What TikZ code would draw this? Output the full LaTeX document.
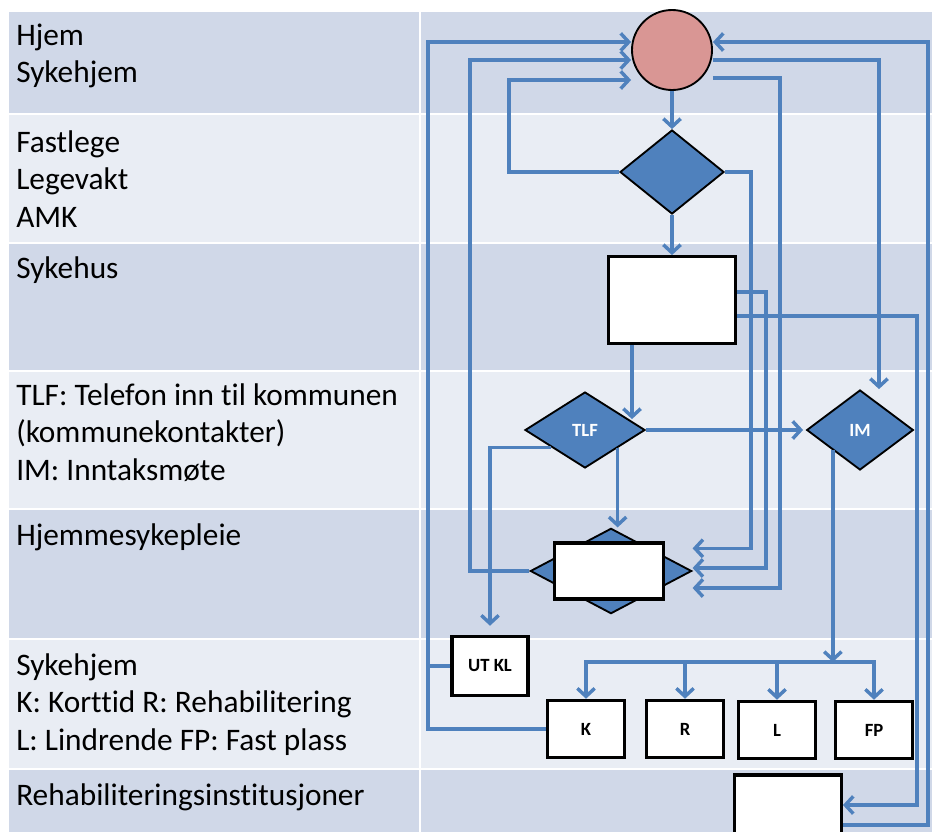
\documentclass[tikz,border=0pt]{standalone}
\usepackage{fontspec}
\setmainfont[Ligatures=NoCommon]{Carlito}
\usetikzlibrary{positioning,shapes.geometric,arrows.meta}

\definecolor{rowdark}{HTML}{D0D8E8}
\definecolor{rowlight}{HTML}{E9EDF4}
\definecolor{flowblue}{HTML}{4F81BD}
\definecolor{circlered}{HTML}{D99694}

\begin{document}
\begin{tikzpicture}[x=0.75pt,y=-0.75pt,
    rowlabel/.style={anchor=north west, inner sep=0pt, align=left, font=\fontsize{23.5}{28}\selectfont},
    flowline/.style={draw=flowblue, line width=2.6pt},
    flow/.style={flowline, -{Straight Barb[length=6pt,width=13pt]}},
    decision/.style={diamond, draw=black, line width=1.4pt, fill=flowblue, inner sep=0pt,
        text=white, font=\fontsize{14}{16}\selectfont\bfseries},
    stepbox/.style={rectangle, draw=black, line width=2.4pt, fill=white, inner sep=0pt,
        font=\fontsize{14}{16}\selectfont\bfseries}]
    \useasboundingbox (0,0) rectangle (932,832);

    % Table rows
    \foreach \t/\b/\c in {12/113/rowdark, 115/242/rowlight, 244/370/rowdark, 372/508/rowlight,
                          510/638/rowdark, 640/768/rowlight, 770/840/rowdark} {
        \fill[\c] (9,\t) rectangle (932,\b);
    }
    \draw[white, line width=1.5pt] (420,12) -- (420,840);

    % Row labels
    \foreach \i/\y/\txt in {1/19/{Hjem\\Sykehjem},
                            2/126/{Fastlege\\Legevakt\\AMK},
                            3/252/{Sykehus},
                            4/379/{TLF: Telefon inn til kommunen\\(kommunekontakter)\\IM: Inntaksmøte},
                            5/519/{Hjemmesykepleie},
                            6/649/{Sykehjem\\K: Korttid R: Rehabilitering\\L: Lindrende FP: Fast plass},
                            7/779/{Rehabiliteringsinstitusjoner}} {
        \node[rowlabel] (lab\i) at (16,\y) {\strut\txt};
    }

    % Flow nodes
    \node[circle, draw=black, line width=1.4pt, fill=circlered, minimum size=60pt] (hjem) at (672,50) {};
    \node[decision, minimum width=78pt, minimum height=63pt] (lv) at (672,172) {};
    \node[stepbox, minimum width=95pt, minimum height=65pt] (syk) at (672,300) {};
    \node[decision, minimum width=90pt, minimum height=57pt] (tlf) at (585,430) {TLF};
    \node[decision, minimum width=80pt, minimum height=60pt] (im) at (860,430) {IM};
    % Hjemmesykepleie: diamond behind a box
    \node[decision, minimum width=121pt, minimum height=64pt] (hsp) at (611,571) {};
    \node[stepbox, minimum width=82pt, minimum height=42pt] (hspbox) at (609,571) {};
    \node[stepbox, minimum width=57pt, minimum height=44pt] (utkl) at (490,666) {UT KL};
    \foreach \n/\x/\y/\txt in {k/586/729/K, r/685/729/R, l/777/730/L, fp/874/730/FP} {
        \node[stepbox, minimum width=58pt, minimum height=43pt] (\n) at (\x,\y) {\txt};
    }
    \node[stepbox, minimum width=80pt, minimum height=45pt] (rehab) at (788,805) {};

    % Trunks and bus
    \coordinate (trunkA) at (428,0);
    \coordinate (trunkB) at (470,0);
    \coordinate (trunkC) at (509,0);
    \coordinate (trunkD) at (751,0);
    \coordinate (trunkE) at (766,0);
    \coordinate (trunkF) at (780,0);
    \coordinate (trunkG) at (879,0);
    \coordinate (trunkH) at (917,0);
    \coordinate (trunkI) at (928,0);
    \coordinate (bus) at (0,662);

    % Back to Hjem / Sykehjem
    \draw[flow] (k.west) -| ([yshift=6pt]hjem.west -| trunkA) -- ([yshift=6pt]hjem.west);
    \draw[flowline] (utkl.west) -- (utkl.west -| trunkA);
    \draw[flow] (hsp.west) -| ([yshift=-7.5pt]hjem.west -| trunkB) -- ([yshift=-7.5pt]hjem.west);
    \draw[flow] (lv.west) -| ([yshift=-22.5pt]hjem.west -| trunkC) -- ([yshift=-22.5pt]hjem.west);
    \draw[flow] ([yshift=-15pt]rehab.east) -| ([yshift=6pt]hjem.east -| trunkI) -- ([yshift=6pt]hjem.east);

    % From Hjem / Sykehjem
    \draw[flow] (hjem.south) -- (lv.north);
    \draw[flow] ([yshift=-7.5pt]hjem.east) -| (im.north -| trunkG);
    \draw[flow] ([yshift=-21pt]hjem.east) -| ([yshift=-12.75pt]hsp.east -| trunkF) -- ([yshift=-12.75pt]hsp.east);

    % Fastlege / Legevakt / AMK
    \draw[flow] (lv.south) -- (syk.north);
    \draw[flow] (lv.east) -| ([yshift=17pt]hsp.east -| trunkD) -- ([yshift=17pt]hsp.east);

    % Sykehus
    \draw[flow] ([xshift=-30pt]syk.south) -- ([xshift=-30pt]syk.south |- tlf.14);
    \draw[flow] ([yshift=6pt]syk.east) -| ([yshift=2.25pt]hsp.east -| trunkE) -- ([yshift=2.25pt]hsp.east);
    \draw[flow] ([yshift=-12pt]syk.east) -| (rehab.east -| trunkH) -- (rehab.east);

    % TLF
    \draw[flow, shorten >=2pt] (tlf.east) -- (im.west);
    \draw[flow, shorten >=7pt] (tlf.207) -| (utkl.north);
    \draw[flow] (tlf.-29) -- (tlf.-29 |- hsp.north);

    % IM to the Sykehjem places
    \draw[flow] (im.217) -- (im.217 |- bus);
    \draw[flowline, line cap=rect] (k.north |- bus) -- (fp.north |- bus);
    \foreach \n in {k,r,l,fp} {
        \draw[flow] (\n.north |- bus) -- (\n.north);
    }
\end{tikzpicture}
\end{document}
